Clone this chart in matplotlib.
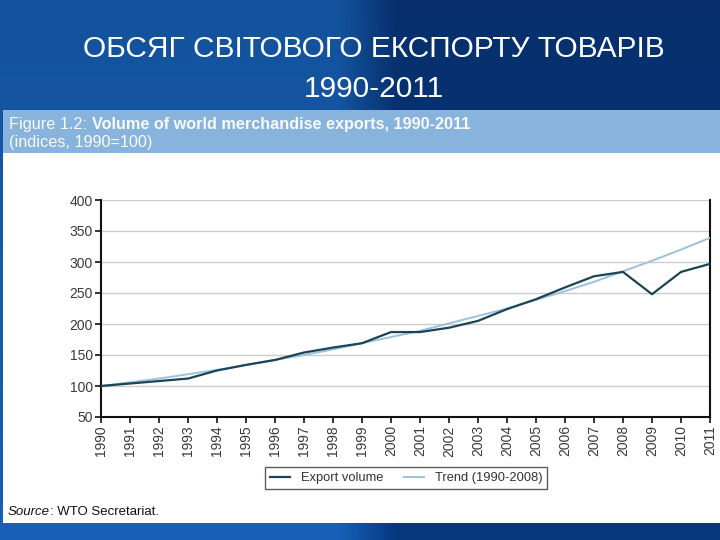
import numpy as np
import matplotlib
matplotlib.use("Agg")
import matplotlib.pyplot as plt
from matplotlib.patches import Rectangle

plt.rcParams['font.family'] = ['Liberation Sans', 'DejaVu Sans']

# data
years = list(range(1990, 2012))
export_volume = [100, 104, 108, 112, 125, 134, 142, 154, 162, 169, 187,
                 187, 194, 205, 224, 240, 259, 277, 284, 248, 284, 297]
trend = [100, 106, 112, 119, 126, 134, 142, 150, 159, 169, 179,
         189, 201, 213, 225, 239, 253, 268, 285, 302, 320, 339]
y_ticks = [50, 100, 150, 200, 250, 300, 350, 400]

W, H = 720, 540
fig = plt.figure(figsize=(W / 100, H / 100), dpi=100)

# slide background: blue gradient, lighter on the left half
bg = fig.add_axes([0, 0, 1, 1])
bg.set_axis_off()
xs = np.linspace(0, 1, 300)
ys = np.linspace(0, 1, 200)
X, Y = np.meshgrid(xs, ys)
left_col = np.array([0.09, 0.38, 0.72])
right_col = np.array([0.03, 0.22, 0.50])
t = np.clip((X - 0.47) / 0.08, 0, 1)
img = left_col * (1 - t[..., None]) + right_col * t[..., None]
img = img * (0.85 + 0.15 * Y[..., None])
bg.imshow(img, extent=[0, 1, 0, 1], aspect='auto', origin='upper')
bg.set_xlim(0, 1)
bg.set_ylim(0, 1)


def fx(px):
    return px / W


def fy(py):
    return 1 - py / H


# white panel and light blue header band
bg.add_patch(Rectangle((fx(3), fy(523)), 1 - fx(3), (523 - 153) / H,
                       facecolor='white', edgecolor='none'))
bg.add_patch(Rectangle((fx(3), fy(153)), 1 - fx(3), (153 - 110) / H,
                       facecolor='#88b3dc', edgecolor='none'))

# slide title
fig.text(fx(374), fy(49), 'ОБСЯГ СВІТОВОГО ЕКСПОРТУ ТОВАРІВ', color='white',
         fontsize=21.5, ha='center', va='center')
fig.text(fx(374), fy(89), '1990-2011', color='white',
         fontsize=21.5, ha='center', va='center')

# figure header inside the band
fig.canvas.draw()
renderer = fig.canvas.get_renderer()
hdr_color = '#f7faff'
t1 = fig.text(fx(9), fy(124), 'Figure 1.2: ', color=hdr_color, fontsize=11.7,
              ha='left', va='center')
bb = t1.get_window_extent(renderer)
fig.text(bb.x1 / W, fy(124), 'Volume of world merchandise exports, 1990-2011',
         color=hdr_color, fontsize=11.7, fontweight='bold', ha='left', va='center')
fig.text(fx(9), fy(143), '(indices, 1990=100)', color=hdr_color, fontsize=11.7,
         ha='left', va='center')

# main chart
ax = fig.add_axes([fx(101), fy(417), fx(710) - fx(101), (417 - 200) / H])
ax.set_facecolor('none')
ax.plot(years, trend, color='#9dc1df', lw=1.4, label='Trend (1990-2008)', zorder=3)
ax.plot(years, export_volume, color='#1b4557', lw=1.6, label='Export volume', zorder=4)

ax.set_xlim(1990, 2011)
ax.set_ylim(50, 400)
ax.set_yticks(y_ticks)
ax.set_xticks(years)
ax.set_xticklabels([str(y) for y in years], rotation=90)
ax.tick_params(axis='both', labelsize=10, colors='#111111', labelcolor='#3a3a3a',
               length=4, width=1.2, direction='out', pad=2)
ax.yaxis.grid(True, color='#cccccc', lw=1)
ax.set_axisbelow(True)
ax.spines['top'].set_visible(False)
for s in ['left', 'bottom', 'right']:
    ax.spines[s].set_color('#111111')
    ax.spines[s].set_linewidth(1.5)

handles, labels = ax.get_legend_handles_labels()
leg = fig.legend(handles[::-1], labels[::-1], loc='center',
                 bbox_to_anchor=(fx(406), fy(478)), ncol=2, fontsize=9.3,
                 frameon=True, fancybox=False, handlelength=1.6,
                 columnspacing=1.6, borderpad=0.35)
leg.get_frame().set_edgecolor('#333333')
leg.get_frame().set_linewidth(1.0)
for txt in leg.get_texts():
    txt.set_color('#333333')

# source note
t2 = fig.text(fx(8), fy(512), 'Source', fontsize=9.5, style='italic',
              color='#111111', ha='left', va='center')
bb2 = t2.get_window_extent(renderer)
fig.text(bb2.x1 / W, fy(512), ': WTO Secretariat.', fontsize=9.5,
         color='#111111', ha='left', va='center')

fig.savefig('out.png', dpi=100)
